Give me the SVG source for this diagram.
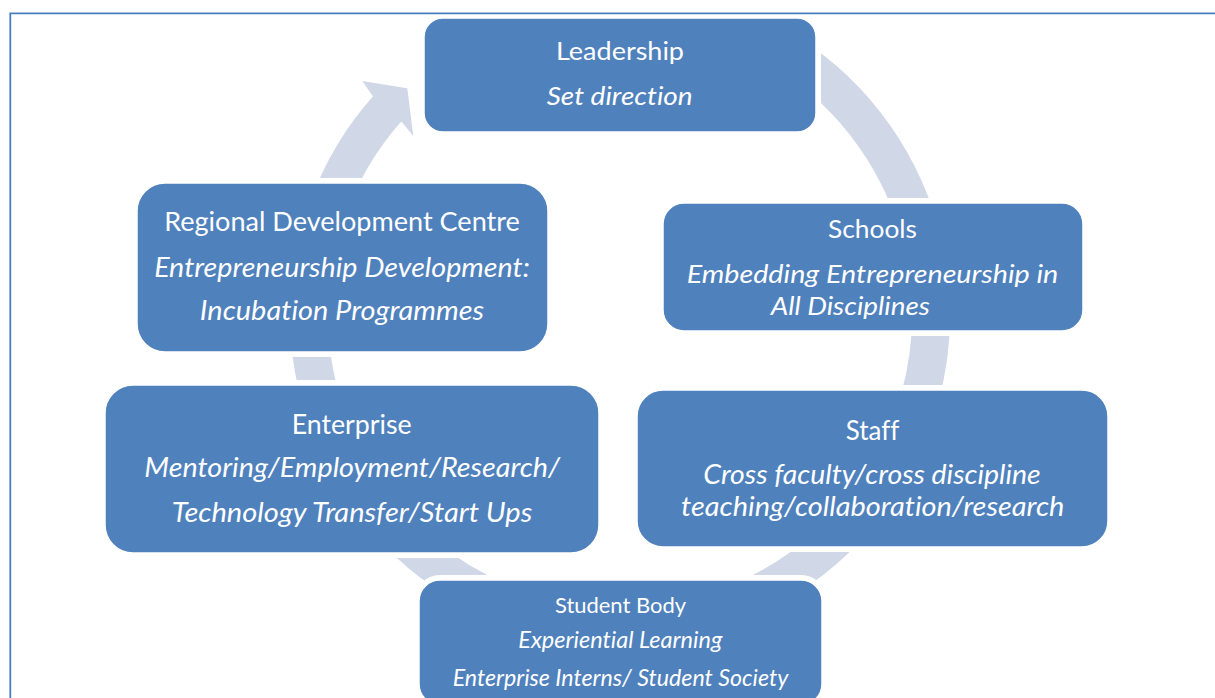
<svg xmlns="http://www.w3.org/2000/svg" width="1215" height="698" viewBox="0 0 1215 698">
<style>
.box{fill:#4F81BD;stroke:#FFFFFF;stroke-width:1.5}
.t{font-family:Lato,"Liberation Sans",sans-serif;fill:#FFFFFF;text-anchor:middle;font-variant-ligatures:none;font-feature-settings:"liga" 0}
.i{font-style:italic}
.ring{fill:none;stroke:#D0D8E8;stroke-width:38}
.head{fill:#D0D8E8}
</style>
<defs>
<mask id="gap" maskUnits="userSpaceOnUse" x="0" y="0" width="1215" height="698">
<rect x="0" y="0" width="1215" height="698" fill="#fff"/>
<rect x="419" y="13" width="402" height="124" rx="24" fill="#000"/>
<rect x="658" y="198" width="430" height="138" rx="26" fill="#000"/>
<rect x="632" y="385" width="481" height="167" rx="31" fill="#000"/>
<rect x="414" y="575" width="413" height="135" rx="26" fill="#000"/>
<rect x="100" y="380" width="504" height="178" rx="33" fill="#000"/>
<rect x="132" y="178" width="421" height="179" rx="33" fill="#000"/>
</mask>
</defs>
<rect x="0" y="0" width="1215" height="698" fill="#FFFFFF"/>
<path d="M10.3 698 V13.3 H1215" fill="none" stroke="#4A7EBB" stroke-width="1.8"/>
<g id="connectors" mask="url(#gap)">
<path class="ring" d="M800.2 61.5 A311 311 0 1 1 388.9 106.9"/>
<polygon class="head" points="372.8,96.3 362.3,81 407.3,88.3 413.3,136 401.3,121.5"/>
</g>
<g id="leadership">
<rect class="box" x="424" y="18" width="392" height="114" rx="19"/>
<text class="t" x="620" y="60" font-size="24.5" textLength="128" lengthAdjust="spacingAndGlyphs">Leadership</text>
<text class="t i" x="619.7" y="104.7" font-size="25" textLength="146" lengthAdjust="spacingAndGlyphs">Set direction</text>
</g>
<g id="schools">
<rect class="box" x="663" y="203" width="420" height="128" rx="21"/>
<text class="t" x="872.5" y="238" font-size="25" textLength="89" lengthAdjust="spacingAndGlyphs">Schools</text>
<text class="t i" x="872.5" y="283" font-size="26" textLength="371.6" lengthAdjust="spacingAndGlyphs">Embedding Entrepreneurship in</text>
<text class="t i" x="850.3" y="314.7" font-size="26" textLength="159.3" lengthAdjust="spacingAndGlyphs">All Disciplines</text>
</g>
<g id="staff">
<rect class="box" x="637" y="390" width="471" height="157" rx="26"/>
<text class="t" x="872.5" y="439.7" font-size="26" textLength="53.6" lengthAdjust="spacingAndGlyphs">Staff</text>
<text class="t i" x="872" y="484" font-size="27" textLength="337.4" lengthAdjust="spacingAndGlyphs">Cross faculty/cross discipline</text>
<text class="t i" x="872.7" y="515.7" font-size="27" textLength="383.3" lengthAdjust="spacingAndGlyphs">teaching/collaboration/research</text>
</g>
<g id="student-body">
<rect class="box" x="419" y="580" width="403" height="125" rx="21"/>
<text class="t" x="620.5" y="613.3" font-size="21.5" textLength="131" lengthAdjust="spacingAndGlyphs">Student Body</text>
<text class="t i" x="620.3" y="648" font-size="23" textLength="204" lengthAdjust="spacingAndGlyphs">Experiential Learning</text>
<text class="t i" x="620.5" y="685.7" font-size="23" textLength="335.6" lengthAdjust="spacingAndGlyphs">Enterprise Interns/ Student Society</text>
</g>
<g id="enterprise">
<rect class="box" x="105" y="385" width="494" height="168" rx="28"/>
<text class="t" x="351.7" y="434" font-size="26" textLength="120" lengthAdjust="spacingAndGlyphs">Enterprise</text>
<text class="t i" x="352.2" y="477.4" font-size="27" textLength="415.7" lengthAdjust="spacingAndGlyphs">Mentoring/Employment/Research/</text>
<text class="t i" x="352" y="522.4" font-size="27" textLength="360.6" lengthAdjust="spacingAndGlyphs">Technology Transfer/Start Ups</text>
</g>
<g id="regional-development-centre">
<rect class="box" x="137" y="183" width="411" height="169" rx="28"/>
<text class="t" x="342" y="231.4" font-size="26.5" textLength="355.7" lengthAdjust="spacingAndGlyphs">Regional Development Centre</text>
<text class="t i" x="342" y="276.7" font-size="27.5" textLength="375.7" lengthAdjust="spacingAndGlyphs">Entrepreneurship Development:</text>
<text class="t i" x="342" y="319.7" font-size="27.5" textLength="284.3" lengthAdjust="spacingAndGlyphs">Incubation Programmes</text>
</g>
</svg>
